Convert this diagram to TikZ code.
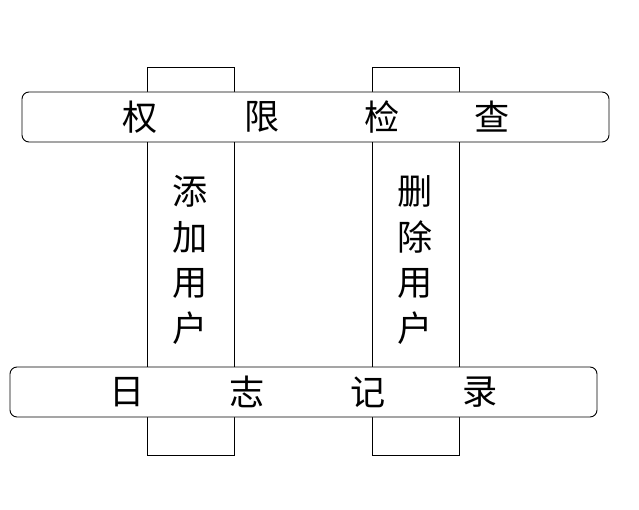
\documentclass[tikz,border=0pt]{standalone}
\usepackage{fontspec}
\newfontfamily\cjk{Noto Sans CJK SC}
\begin{document}
\begin{tikzpicture}[x=0.03cm,y=-0.03cm,
  col/.style={draw=black,line width=0.8pt},
  bar/.style={draw=black,fill=white,rounded corners=6pt,line width=0.8pt},
  big/.style={font=\cjk\fontsize{30}{33}\selectfont,inner sep=0pt},
  vt/.style={font=\cjk\fontsize{30}{39}\selectfont,align=center,inner sep=0pt}]
\useasboundingbox (0,0) rectangle (639,510);
\draw[col] (147,67) rectangle (234,455);
\draw[col] (372,67) rectangle (459,455);
\draw[bar] (22,92) rectangle (609,142);
\draw[bar] (10,367) rectangle (597,417);
\node[big] (a1) at (140,117) {权};
\node[big] (a2) at (262,117) {限};
\node[big] (a3) at (382,117) {检};
\node[big] (a4) at (492,117) {查};
\node[big] (b1) at (127,392) {日};
\node[big] (b2) at (247,392) {志};
\node[big] (b3) at (368,392) {记};
\node[big] (b4) at (480,392) {录};
\node[vt] (c1) at (190,260) {添\\加\\用\\户};
\node[vt] (c2) at (415,260) {删\\除\\用\\户};
\end{tikzpicture}
\end{document}
